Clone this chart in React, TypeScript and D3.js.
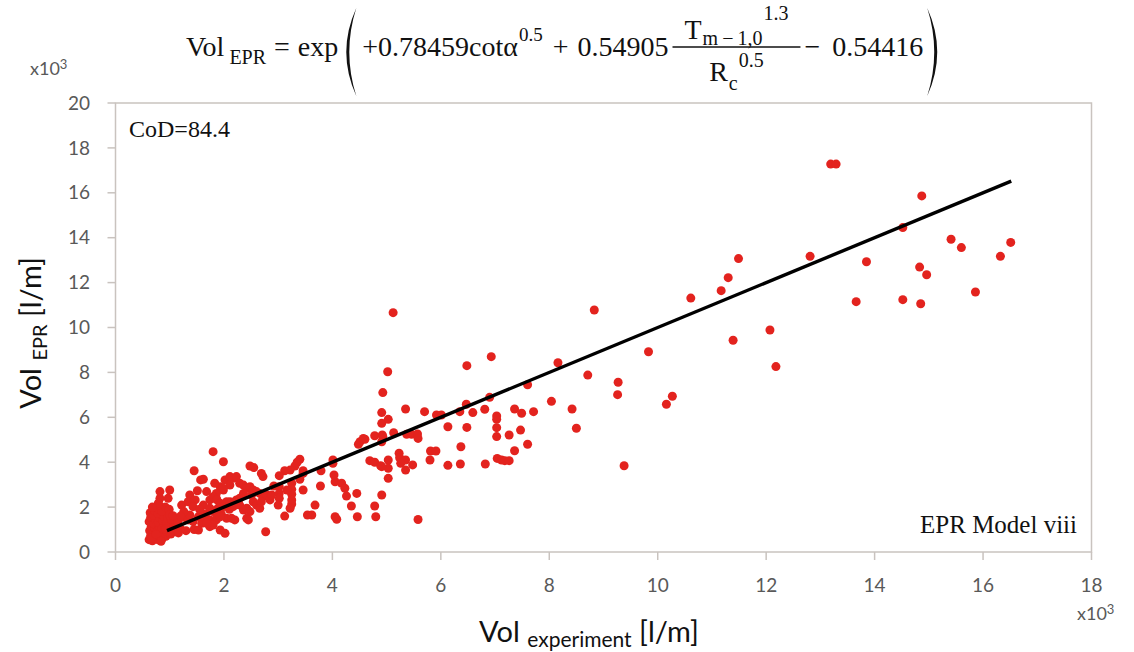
import React from "react";
import * as d3 from "d3";

// ---- data ----
const xTicks = [0, 2, 4, 6, 8, 10, 12, 14, 16, 18];
const yTicks = [0, 2, 4, 6, 8, 10, 12, 14, 16, 18, 20];

const lowCluster: [number, number][] = [
  [0.62,0.55],[0.65,0.75],[0.63,0.95],[0.66,1.15],[0.62,1.35],[0.65,1.55],[0.64,1.75],[0.68,0.5],[0.72,0.62],[0.70,0.85],
  [0.73,1.05],[0.71,1.25],[0.74,1.45],[0.70,1.65],[0.72,1.85],[0.78,0.55],[0.80,0.72],[0.77,0.92],[0.81,1.12],[0.79,1.32],
  [0.82,1.52],[0.78,1.72],[0.80,1.90],[0.86,0.60],[0.88,0.80],[0.85,1.00],[0.90,1.20],[0.87,1.40],[0.89,1.60],[0.86,1.80],
  [0.93,0.70],[0.95,0.90],[0.97,1.10],[0.94,1.30],[0.96,1.50],[0.92,2.00],[0.80,2.10],[0.82,2.39],[0.79,2.17],[0.97,2.39],
  [1.00,2.76],[0.82,2.69],[1.02,0.80],[1.05,1.00],[1.08,1.20],[1.03,1.45],[1.10,0.90],[1.12,1.10],[1.15,1.35],[1.19,1.06],
  [1.22,2.09],[0.99,1.90],[1.00,1.65],[0.68,2.00],[0.66,0.62],[0.75,0.78],[0.84,0.48],[0.92,1.02],[1.06,1.62],[1.16,0.85],
];

const midCluster: [number, number][] = [
  [1.25,1.55],[1.30,0.95],[1.34,1.43],[1.37,1.65],[1.43,1.35],[1.45,1.00],[1.53,1.57],[1.59,1.28],[1.53,0.98],[1.62,1.70],
  [1.74,1.13],[1.74,1.43],[1.74,1.87],[1.86,1.43],[1.89,1.95],[1.93,0.98],[2.02,0.83],[1.80,1.20],[1.68,1.50],[1.37,2.54],
  [1.34,2.24],[1.47,2.32],[1.43,2.02],[1.51,2.73],[1.57,3.21],[1.45,3.62],[1.68,2.69],[1.62,2.09],[1.74,2.32],[1.86,2.39],
  [1.99,2.76],[2.02,3.21],[2.17,3.28],[2.11,2.98],[1.93,2.91],[1.86,2.61],[2.11,2.24],[2.20,2.24],[1.80,4.47],[1.99,4.02],
  [1.26,1.80],[1.20,1.60],[1.55,1.90],[1.95,1.70],[2.05,1.50],[2.10,1.90],[1.98,2.10],[1.62,3.24],[1.83,3.06],[1.98,2.84],
  [2.11,3.36],[2.23,3.36],[2.29,3.06],[2.36,2.98],[2.42,2.84],[2.48,2.91],[2.54,2.76],[2.60,2.69],[2.66,2.61],[2.72,2.46],
  [2.79,2.54],[2.85,2.32],[2.88,2.54],[1.80,2.46],[1.87,2.32],[1.93,2.17],[1.99,2.02],[2.05,2.24],[2.11,2.17],[2.17,2.02],
  [2.23,2.32],[2.29,2.09],[2.36,1.87],[2.42,1.95],[2.48,1.80],[2.54,2.24],[2.60,2.09],[2.66,1.95],[1.74,1.95],[1.80,1.80],
  [1.87,1.57],[1.93,1.57],[1.62,1.57],[1.68,1.28],[2.14,1.50],[2.20,1.43],[2.42,1.50],[2.45,1.43],[2.29,2.39],[2.36,2.61],
  [2.51,2.54],[2.69,2.24],[2.48,3.83],[2.55,3.76],[2.69,3.50],[2.72,3.36],[2.77,0.90],[3.40,4.13],[3.35,4.00],[3.31,3.83],
  [3.22,3.65],[3.12,3.62],[3.02,3.40],[3.46,3.62],[3.79,3.62],[3.46,3.50],[3.40,3.24],[3.46,2.76],[3.25,3.06],[3.25,2.79],
  [3.25,2.57],[3.25,2.32],[3.25,2.14],[3.16,2.76],[3.02,2.91],[3.02,2.61],[3.02,2.39],[2.92,2.94],[3.78,2.94],[3.68,2.09],
  [3.62,1.65],[3.54,1.65],[3.12,1.60],[3.00,2.09],[3.22,1.95],[4.05,3.13],[4.05,1.57],[4.08,1.46],[4.03,3.43],[4.17,3.06],
  [4.23,2.84],[4.26,2.49],[4.35,2.05],[4.45,2.61],[4.46,1.57],[4.01,4.10],[4.01,3.95],[4.51,4.91],[4.60,5.02],[4.48,4.80],
  [4.57,5.06],
];

const upperPoints: [number, number][] = [
  [4.69,4.07],[4.78,4.00],[4.89,3.84],[4.78,2.05],[4.80,1.57],[4.91,2.54],[4.78,5.18],[4.92,5.21],[4.91,4.91],[4.93,5.14],
  [5.13,5.31],[5.37,5.24],[5.46,5.24],[5.57,5.26],[5.58,5.06],[5.23,4.40],[5.24,4.20],[5.35,4.10],[5.26,3.95],[5.48,3.88],
  [5.35,3.65],[5.80,4.10],[5.81,4.50],[5.91,4.50],[6.37,4.69],[6.13,3.86],[6.36,3.92],[6.82,3.92],[7.04,4.17],[7.12,4.10],
  [7.18,4.07],[7.26,4.07],[7.36,4.51],[7.60,4.80],[9.38,3.84],[5.03,4.10],[5.03,3.73],[4.91,3.80],[5.03,3.28],[5.58,1.45],
  [4.91,5.73],[5.03,5.91],[4.91,6.21],[4.93,7.10],[5.02,8.03],[5.12,10.66],[5.35,6.37],[5.70,6.25],[5.92,6.10],[6.01,6.10],
  [6.35,6.25],[6.47,6.58],[6.59,6.21],[6.81,6.36],[7.03,6.06],[7.03,5.91],[7.36,6.37],[7.49,6.18],[7.71,6.25],[8.42,6.37],
  [8.50,5.51],[6.13,5.58],[6.48,5.55],[7.03,5.54],[7.03,5.14],[7.26,5.21],[7.47,5.43],[6.90,6.89],[6.48,8.30],[6.93,8.70],
  [7.60,7.45],[8.04,6.71],[8.16,8.43],[8.71,7.88],[8.83,10.78],[9.27,7.56],[9.26,7.01],[9.83,8.92],[10.16,6.58],[10.27,6.94],
  [10.61,11.31],[11.17,11.64],[11.30,12.22],[11.39,9.43],[11.49,13.07],[12.07,9.89],[12.18,8.26],[12.81,13.17],[13.19,17.28],[13.29,17.28],
  [13.66,11.15],[13.85,12.93],[14.52,14.45],[14.52,11.24],[14.83,12.69],[14.85,11.06],[14.87,15.86],[14.96,12.35],[15.41,13.93],[15.60,13.56],
  [15.86,11.58],[16.32,13.17],[16.51,13.79],
];

const fitLine: [number, number][] = [[0.95, 0.95], [16.52, 16.52]];

const W = 1134, H = 652;
const x = d3.scaleLinear().domain([0, 18]).range([115.5, 1091.5]);
const y = d3.scaleLinear().domain([0, 20]).range([552, 103]);

const AXIS = "#c9c3bf";
const LABEL = "#595959";
const DOT = "#e3231e";
const SANS = "Lato, 'Open Sans', sans-serif";
const SERIF_NAME = "Liberation Serif";
const SERIF = "'Liberation Serif', 'DejaVu Serif', serif";

let measureCtx: CanvasRenderingContext2D | null = null;
function tw(s: string, size: number): number {
  if (!measureCtx && typeof document !== "undefined") {
    measureCtx = document.createElement("canvas").getContext("2d");
  }
  if (!measureCtx) return s.length * size * 0.5;
  measureCtx.font = `${size}px "${SERIF_NAME}"`;
  return measureCtx.measureText(s).width;
}

function Formula() {
  const F = 28, S = 20, BL = 56, PAD = 12;
  const items: React.ReactNode[] = [];
  let cx = 186;
  const put = (s: string, size: number, yy: number, key: string, gapAfter = 0) => {
    items.push(<text key={key} x={cx} y={yy} fontSize={size}>{s}</text>);
    cx += tw(s, size) + gapAfter;
  };
  put("Vol", F, BL, "vol", 5);
  put("EPR", S, BL + 8, "epr", 8);
  put("=", F, BL, "eq", 8);
  put("exp", F, BL, "exp", 4);
  const lp = cx;
  items.push(<path key="lp" d={`M${lp + 14},8 Q${lp - 6},52 ${lp + 14},96 Q${lp},52 ${lp + 14},8 Z`} />);
  cx += 20;
  put("+0.78459cotα", F, BL, "t1", 1);
  put("0.5", S - 1, BL - 15, "t1s", 10);
  put("+", F, BL, "plus", 9);
  put("0.54905", F, BL, "t2", 4);
  // fraction
  const sub = "m\u2009−\u20091,0";
  const numW = tw("T", F) + 1 + tw(sub, S) + 1 + tw("1.3", S);
  const denW = tw("R", F) + 1 + tw("c", S) + 1 + tw("0.5", S);
  const fw = Math.max(numW, denW) + 2 * PAD;
  const fx = cx;
  items.push(<line key="fl" x1={fx} x2={fx + fw} y1={47} y2={47} stroke="#111" strokeWidth={1.6} />);
  let nx = fx + PAD + (fw - 2 * PAD - numW) / 2;
  items.push(<text key="T" x={nx} y={39} fontSize={F}>T</text>);
  nx += tw("T", F) + 1;
  items.push(<text key="Ts" x={nx} y={45} fontSize={S}>{sub}</text>);
  nx += tw(sub, S) + 1;
  items.push(<text key="Tp" x={nx} y={20} fontSize={S}>1.3</text>);
  let dx = fx + PAD + (fw - 2 * PAD - denW) / 2;
  items.push(<text key="R" x={dx} y={81} fontSize={F}>R</text>);
  dx += tw("R", F) + 1;
  items.push(<text key="Rs" x={dx} y={90} fontSize={S}>c</text>);
  dx += tw("c", S) + 1;
  items.push(<text key="Rp" x={dx} y={67} fontSize={S}>0.5</text>);
  cx = fx + fw + 4;
  put("−", F, BL, "minus", 12);
  put("0.54416", F, BL, "t3", 4);
  const rp = cx;
  items.push(<path key="rp" d={`M${rp},8 Q${rp + 20},52 ${rp},96 Q${rp + 14},52 ${rp},8 Z`} />);
  return <g fontFamily={SERIF} fill="#111">{items}</g>;
}

export default function App() {
  const allPoints = [...lowCluster, ...midCluster, ...upperPoints];
  const line = d3.line<[number, number]>().x(d => x(d[0])).y(d => y(d[1]));
  return (
    <svg width={W} height={H} style={{ position: "absolute", left: 0, top: 0, background: "#fff" }}>
      <rect x={0} y={0} width={W} height={H} fill="#fff" />
      <Formula />

      {/* plot frame */}
      <rect x={x(0)} y={y(20)} width={x(18) - x(0)} height={y(0) - y(20)} fill="none" stroke={AXIS} strokeWidth={1.5} />
      {yTicks.map(t => (
        <g key={"y" + t}>
          <line x1={x(0) - 8} x2={x(0)} y1={y(t)} y2={y(t)} stroke={AXIS} strokeWidth={1.5} />
          <text x={90} y={y(t)} dy="0.35em" textAnchor="end" fontFamily={SANS} fontSize={19} fill={LABEL}>{t}</text>
        </g>
      ))}
      {xTicks.map(t => (
        <g key={"x" + t}>
          <line x1={x(t)} x2={x(t)} y1={y(0)} y2={y(0) + 8} stroke={AXIS} strokeWidth={1.5} />
          <text x={x(t)} y={592} textAnchor="middle" fontFamily={SANS} fontSize={19} fill={LABEL}>{t}</text>
        </g>
      ))}
      <text x={30} y={75} fontFamily={SANS} fontSize={18} fill={LABEL}>x10<tspan dy={-6} fontSize={13}>3</tspan></text>
      <text x={1077} y={620} fontFamily={SANS} fontSize={18} fill={LABEL}>x10<tspan dy={-6} fontSize={13}>3</tspan></text>

      {/* axis titles */}
      <text transform="translate(41,333) rotate(-90)" textAnchor="middle" fontFamily={SANS} fontSize={29} fill="#111">
        Vol <tspan dy={6} fontSize={20}>EPR</tspan><tspan dy={-6}>{"  [l/m]"}</tspan>
      </text>
      <text x={589} y={642} textAnchor="middle" fontFamily={SANS} fontSize={29} fill="#111">
        Vol <tspan dy={5} fontSize={21}>experiment</tspan><tspan dy={-5}>{" [l/m]"}</tspan>
      </text>

      {/* points */}
      <g fill={DOT}>
        {allPoints.map((p, i) => (
          <circle key={i} cx={x(p[0])} cy={y(p[1])} r={4.5} />
        ))}
      </g>
      <path d={line(fitLine) || ""} stroke="#000" strokeWidth={3.4} fill="none" />

      {/* annotations */}
      <text x={129} y={137} fontFamily={SERIF} fontSize={24} fill="#111">CoD=84.4</text>
      <text x={1077} y={533} textAnchor="end" fontFamily={SERIF} fontSize={25} fill="#111">EPR Model viii</text>
    </svg>
  );
}
